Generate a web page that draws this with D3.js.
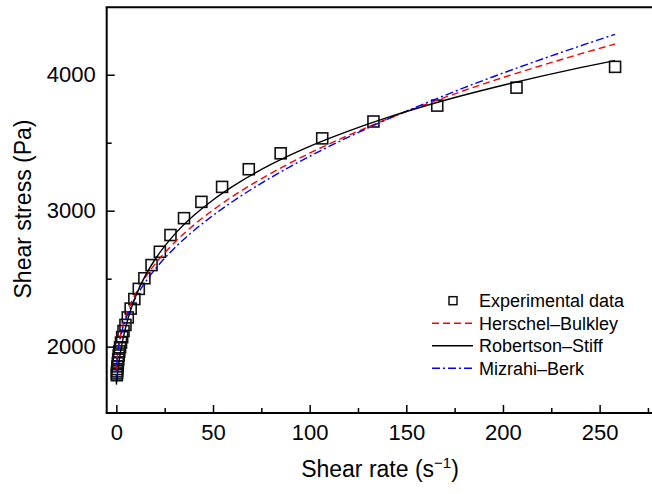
<!DOCTYPE html>
<html><head><meta charset="utf-8">
<script src="https://cdn.jsdelivr.net/npm/d3@7"></script>
<style>
html,body{margin:0;padding:0;background:#fff;}
svg{display:block;font-family:"Liberation Sans",Arial,sans-serif;}
</style></head>
<body>
<svg id="chart" width="652" height="494"></svg>
<script>
// Experimental data
const expX = [258,207,166,133,106.5,85,68.5,54.7,44,35,28,22.5,18.2,14.5,11.6,9.3,7.4,5.9,4.7,3.7,3.0,2.4,1.9,1.5,1.2,0.95,0.76,0.6,0.48,0.38,0.3,0.24];
const expY = [4058,3905,3773,3656,3532,3422,3305,3175,3065,2945,2821,2698,2600,2503,2425,2350,2280,2215,2160,2115,2070,2030,1995,1965,1935,1905,1878,1855,1835,1818,1803,1790];
// Fitted curves
const fitX = [0,0.1,0.5,1,2,3,5,7.5,10,15,20,30,40,50,60,80,100,120,140,160,180,200,220,240,258];
const hbY  = [1735,1834,1927,1990,2074,2135,2228,2318,2391,2510,2607,2765,2894,3005,3104,3275,3423,3554,3673,3782,3884,3979,4068,4153,4226];
const rsY  = [1721,1735,1791,1851,1948,2027,2153,2273,2370,2522,2641,2824,2964,3079,3177,3340,3473,3585,3684,3772,3851,3923,3990,4052,4104];
const mbY  = [1739,1840,1927,1986,2064,2121,2208,2292,2362,2475,2569,2724,2853,2965,3066,3244,3400,3541,3671,3791,3905,4012,4114,4212,4297];
const xTicks = [0,50,100,150,200,250];
const xMinor = [25,75,125,175,225,275];
const yTicks = [2000,3000,4000];
const yMinor = [2500,3500];
const legendLabels = ["Experimental data","Herschel\u2013Bulkley","Robertson\u2013Stiff","Mizrahi\u2013Berk"];

const svg = d3.select("#chart");
const L = 106.7, T = 7.3, B = 413;
const x = d3.scaleLinear().domain([-5,280]).range([L, L + 285*1.933]);
const y = d3.scaleLinear().domain([1512,4496]).range([B, T]);

const clipId = "plotclip";
svg.append("clipPath").attr("id",clipId).append("rect")
  .attr("x",L).attr("y",T).attr("width",700).attr("height",B-T);

const plot = svg.append("g").attr("clip-path","url(#"+clipId+")");

const line = d3.line().x(d=>x(d[0])).y(d=>y(d[1])).curve(d3.curveMonotoneX);
const series = [
  {y:hbY, color:"#ff0000", dash:"7,4"},
  {y:mbY, color:"#0000ff", dash:"8,3,2,3"},
  {y:rsY, color:"#000000", dash:null}
];

// markers
plot.selectAll("rect.pt").data(expX.map((v,i)=>[v,expY[i]])).enter().append("rect")
  .attr("class","pt")
  .attr("x",d=>x(d[0])-5.5).attr("y",d=>y(d[1])-5.5)
  .attr("width",11).attr("height",11)
  .attr("fill","none").attr("stroke","#111").attr("stroke-width",1.6);

series.forEach(s=>{
  plot.append("path").datum(fitX.map((v,i)=>[v,s.y[i]]))
    .attr("d",line).attr("fill","none").attr("stroke",s.color)
    .attr("stroke-width",1.4).attr("stroke-dasharray",s.dash);
});

// axes
const gx = svg.append("g").attr("transform",`translate(0,${B})`)
  .call(d3.axisBottom(x).tickValues(xTicks).tickSize(-8).tickSizeOuter(0).tickPadding(11).tickFormat(d3.format("d")));
const gxm = svg.append("g").attr("transform",`translate(0,${B})`)
  .call(d3.axisBottom(x).tickValues(xMinor).tickSize(-5).tickSizeOuter(0).tickFormat(""));
const gy = svg.append("g").attr("transform",`translate(${L},0)`)
  .call(d3.axisLeft(y).tickValues(yTicks).tickSize(-8).tickSizeOuter(0).tickPadding(11).tickFormat(d3.format("d")));
const gym = svg.append("g").attr("transform",`translate(${L},0)`)
  .call(d3.axisLeft(y).tickValues(yMinor).tickSize(-5).tickSizeOuter(0).tickFormat(""));
[gx,gxm,gy,gym].forEach(g=>{
  g.select(".domain").remove();
  g.selectAll("line").attr("stroke","#000").attr("stroke-width",1.5);
  g.selectAll("text").attr("font-size",22).attr("fill","#000").attr("font-family","'Liberation Sans',Arial,sans-serif");
});

// frame
svg.append("line").attr("x1",L).attr("x2",L).attr("y1",T).attr("y2",B).attr("stroke","#000").attr("stroke-width",2);
svg.append("line").attr("x1",L-1).attr("x2",652).attr("y1",B).attr("y2",B).attr("stroke","#000").attr("stroke-width",2);
svg.append("line").attr("x1",L-1).attr("x2",652).attr("y1",T).attr("y2",T).attr("stroke","#000").attr("stroke-width",2);

// axis titles
const xt = svg.append("text").attr("x",380).attr("y",477).attr("text-anchor","middle")
  .attr("font-size",23).attr("fill","#000");
xt.append("tspan").text("Shear rate (s");
xt.append("tspan").attr("font-size",15).attr("dy",-9).text("\u22121");
xt.append("tspan").attr("dy",9).text(")");

svg.append("text").attr("transform","translate(31,209) rotate(-90)")
  .attr("text-anchor","middle").attr("font-size",23).attr("fill","#000")
  .text("Shear stress (Pa)");

// legend
const lg = svg.append("g");
const rows = [300.7,323.3,345.7,368.3];
lg.append("rect").attr("x",453-4).attr("y",rows[0]-4).attr("width",8).attr("height",8)
  .attr("fill","none").attr("stroke","#111").attr("stroke-width",1.5);
const legSeries = [series[0],series[2],series[1]];
legSeries.forEach((s,i)=>{
  lg.append("line").attr("x1",432).attr("x2",473).attr("y1",rows[i+1]).attr("y2",rows[i+1])
    .attr("stroke",s.color).attr("stroke-width",1.4).attr("stroke-dasharray",s.dash);
});
legendLabels.forEach((t,i)=>{
  lg.append("text").attr("x",479).attr("y",rows[i]).attr("dy","0.35em")
    .attr("font-size",18).attr("fill","#000").text(t);
});
</script>
</body></html>
